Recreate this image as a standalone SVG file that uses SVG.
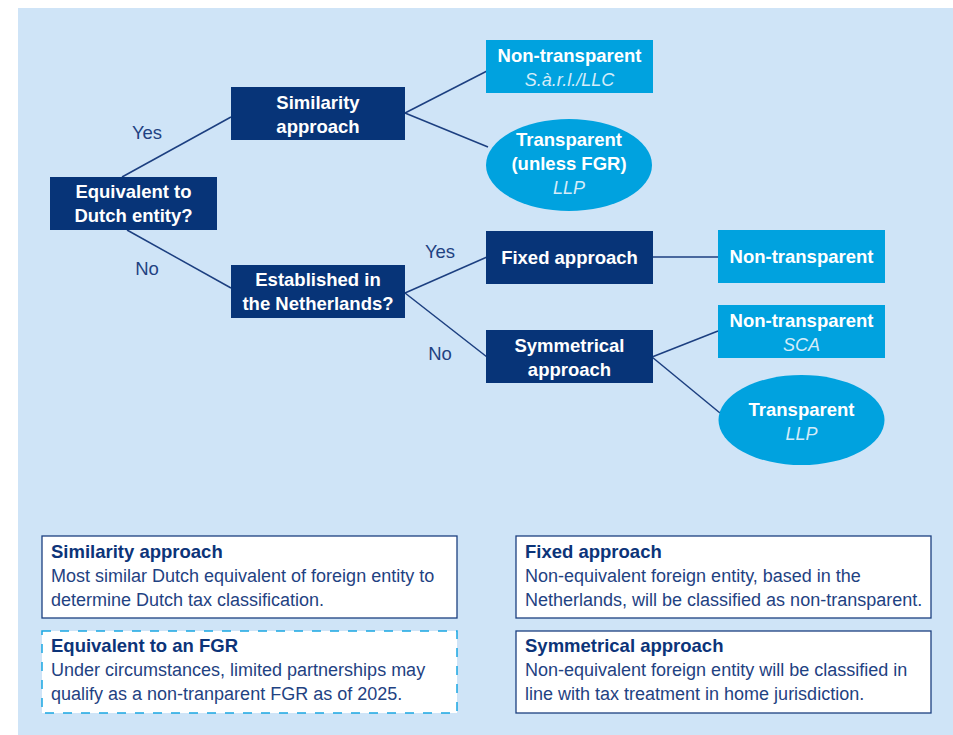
<svg xmlns="http://www.w3.org/2000/svg" width="953" height="735" viewBox="0 0 953 735">
<style>
.nb{fill:#073478}
.lb{fill:#00a2df}
.bt{font-family:"Liberation Sans",Arial,sans-serif;font-weight:bold;font-size:18.5px;fill:#ffffff;text-anchor:middle}
.it{font-family:"Liberation Sans",Arial,sans-serif;font-style:italic;font-size:18px;fill:#d4ecf9;text-anchor:middle}
.lab{font-family:"Liberation Sans",Arial,sans-serif;font-size:18.5px;fill:#1f4282;text-anchor:middle}
.con{stroke:#1c3f80;stroke-width:1.5;fill:none}
.lg{fill:#ffffff;stroke:#1c3f80;stroke-width:1.3}
.lgd{fill:#ffffff;stroke:#1aa7e2;stroke-width:1.5;stroke-dasharray:9 9}
.lt{font-family:"Liberation Sans",Arial,sans-serif;font-weight:bold;font-size:18.5px;fill:#0c3479}
.lx{font-family:"Liberation Sans",Arial,sans-serif;font-size:18px;fill:#1f4282}
</style>
<rect x="0" y="0" width="953" height="735" fill="#ffffff"/>
<rect x="18" y="8" width="935" height="727" fill="#cfe4f7"/>
<g id="connectors">
<line class="con" x1="122" y1="177" x2="231" y2="117"/>
<line class="con" x1="127" y1="230" x2="231" y2="288"/>
<line class="con" x1="405" y1="113" x2="487" y2="71"/>
<line class="con" x1="405" y1="113" x2="488" y2="147"/>
<line class="con" x1="405" y1="293" x2="487" y2="257"/>
<line class="con" x1="405" y1="293" x2="487" y2="357"/>
<line class="con" x1="652" y1="257" x2="718" y2="257"/>
<line class="con" x1="652" y1="357" x2="718" y2="331"/>
<line class="con" x1="652" y1="357" x2="720" y2="413"/>
<text class="lab" x="147" y="139">Yes</text>
<text class="lab" x="147" y="275">No</text>
<text class="lab" x="440" y="258">Yes</text>
<text class="lab" x="440" y="360">No</text>
</g>
<g id="equivalent">
<rect class="nb" x="50" y="177" width="167" height="53"/>
<text class="bt" x="133.5" y="198">Equivalent to</text>
<text class="bt" x="133.5" y="222">Dutch entity?</text>
</g>
<g id="similarity">
<rect class="nb" x="231" y="87" width="174" height="53"/>
<text class="bt" x="318" y="109">Similarity</text>
<text class="bt" x="318" y="133">approach</text>
</g>
<g id="established">
<rect class="nb" x="231" y="265" width="174" height="53"/>
<text class="bt" x="318" y="286">Established in</text>
<text class="bt" x="318" y="310">the Netherlands?</text>
</g>
<g id="nontransparent-sarl">
<rect class="lb" x="486" y="40" width="167" height="53"/>
<text class="bt" x="569.5" y="62">Non-transparent</text>
<text class="it" x="569.5" y="86">S.à.r.l./LLC</text>
</g>
<g id="transparent-fgr">
<ellipse class="lb" cx="569" cy="165" rx="83" ry="46"/>
<text class="bt" x="569" y="146">Transparent</text>
<text class="bt" x="569" y="170">(unless FGR)</text>
<text class="it" x="569" y="194">LLP</text>
</g>
<g id="fixed">
<rect class="nb" x="486" y="231" width="167" height="53"/>
<text class="bt" x="569.5" y="264">Fixed approach</text>
</g>
<g id="nontransparent-fixed">
<rect class="lb" x="718" y="230" width="167" height="53"/>
<text class="bt" x="801.5" y="263">Non-transparent</text>
</g>
<g id="symmetrical">
<rect class="nb" x="486" y="330" width="167" height="53"/>
<text class="bt" x="569.5" y="352">Symmetrical</text>
<text class="bt" x="569.5" y="376">approach</text>
</g>
<g id="nontransparent-sca">
<rect class="lb" x="718" y="305" width="167" height="53"/>
<text class="bt" x="801.5" y="327">Non-transparent</text>
<text class="it" x="801.5" y="351">SCA</text>
</g>
<g id="transparent-llp">
<ellipse class="lb" cx="801.5" cy="420" rx="83" ry="45"/>
<text class="bt" x="801.5" y="416">Transparent</text>
<text class="it" x="801.5" y="440">LLP</text>
</g>
<g id="legend-similarity">
<rect class="lg" x="42" y="536" width="415" height="82"/>
<text class="lt" x="51" y="558">Similarity approach</text>
<text class="lx" x="51" y="582">Most similar Dutch equivalent of foreign entity to</text>
<text class="lx" x="51" y="606">determine Dutch tax classification.</text>
</g>
<g id="legend-fgr">
<rect class="lgd" x="42" y="631" width="415" height="82"/>
<text class="lt" x="51" y="652">Equivalent to an FGR</text>
<text class="lx" x="51" y="676">Under circumstances, limited partnerships may</text>
<text class="lx" x="51" y="700">qualify as a non-tranparent FGR as of 2025.</text>
</g>
<g id="legend-fixed">
<rect class="lg" x="516" y="536" width="415" height="82"/>
<text class="lt" x="525" y="558">Fixed approach</text>
<text class="lx" x="525" y="582">Non-equivalent foreign entity, based in the</text>
<text class="lx" x="525" y="606">Netherlands, will be classified as non-transparent.</text>
</g>
<g id="legend-symmetrical">
<rect class="lg" x="516" y="631" width="415" height="82"/>
<text class="lt" x="525" y="652">Symmetrical approach</text>
<text class="lx" x="525" y="676">Non-equivalent foreign entity will be classified in</text>
<text class="lx" x="525" y="700">line with tax treatment in home jurisdiction.</text>
</g>
</svg>
